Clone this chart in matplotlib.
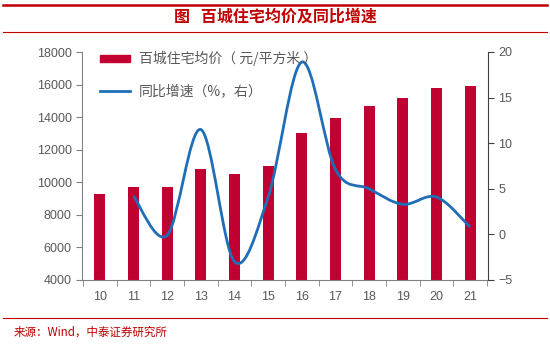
import numpy as np
import matplotlib
matplotlib.use('Agg')
import matplotlib.pyplot as plt
from matplotlib.path import Path
from matplotlib.patches import PathPatch, Rectangle
from matplotlib.lines import Line2D

plt.rcParams['font.family'] = ['Liberation Sans', 'Noto Sans CJK SC', 'DejaVu Sans']

years = ['10', '11', '12', '13', '14', '15', '16', '17', '18', '19', '20', '21']
price = [9300, 9700, 9700, 10800, 10500, 10980, 13000, 13950, 14680, 15170, 15790, 15900]
growth_years = ['11', '12', '13', '14', '15', '16', '17', '18', '19', '20', '21']
growth = [4.2, -0.1, 11.5, -3.0, 4.1, 18.9, 7.1, 5.0, 3.3, 4.1, 0.8]

bar_color = '#C00030'
line_color = '#1F6EB8'
red = '#C00000'
grey = '#595959'

fig = plt.figure(figsize=(5.5, 3.46), dpi=100)

# header / footer lines and texts
fig.add_artist(Line2D([0.005, 0.995], [1 - 4.5/346, 1 - 4.5/346], color=red, lw=1.8))
fig.add_artist(Line2D([0.005, 0.995], [1 - 32/346, 1 - 32/346], color=red, lw=0.8))
fig.add_artist(Line2D([0.005, 0.995], [1 - 318/346, 1 - 318/346], color=red, lw=0.8))
fig.text(0.5, 1 - 17/346, '图   百城住宅均价及同比增速', ha='center', va='center',
         color=red, fontsize=11.5, fontweight='bold', family=['Noto Sans CJK SC'])
fig.text(0.025, 1 - 332/346, '来源：Wind，中泰证券研究所', ha='left', va='center',
         color=red, fontsize=8.3, family=['Noto Sans CJK SC'])

ax = fig.add_axes([82/550, 1 - 280/346, (488 - 82)/550, (280 - 52)/346])
x = np.arange(len(years))
ax.bar(x, price, width=0.33, color=bar_color, zorder=2)
ax.set_xlim(-0.53, len(years) - 0.47)
ax.set_ylim(4000, 18000)
ax.set_yticks(np.arange(4000, 18001, 2000))
ax.set_xticks(x)
ax.set_xticklabels(years)
ax.set_xticks(np.arange(-0.5, len(years), 1), minor=True)
ax.tick_params(axis='x', which='major', length=0, pad=8)
ax.tick_params(axis='x', which='minor', length=4, color='#808080')
ax.tick_params(axis='y', length=4, color='#808080', direction='out')
ax.tick_params(labelsize=9, labelcolor=grey)
for s in ['top', 'right']:
    ax.spines[s].set_visible(False)
for s in ['left', 'bottom']:
    ax.spines[s].set_color('#808080')

ax2 = ax.twinx()
ax2.set_ylim(-5, 20)
ax2.set_yticks(np.arange(-5, 21, 5))
ax2.tick_params(axis='y', length=4, color='#404040', labelsize=9, labelcolor=grey)
for s in ['top', 'left', 'bottom']:
    ax2.spines[s].set_visible(False)
ax2.spines['right'].set_color('#404040')

# smoothed line (Excel-style Bezier through the data points)
gx = np.array([years.index(g) for g in growth_years], dtype=float)
gy = np.array(growth, dtype=float)
n = len(gx)
verts = [(gx[0], gy[0])]
codes = [Path.MOVETO]
t = 1 / 6
for i in range(n - 1):
    p0 = i - 1 if i > 0 else i
    p3 = i + 2 if i + 2 < n else i + 1
    c1 = (gx[i] + (gx[i + 1] - gx[p0]) * t, gy[i] + (gy[i + 1] - gy[p0]) * t)
    c2 = (gx[i + 1] - (gx[p3] - gx[i]) * t, gy[i + 1] - (gy[p3] - gy[i]) * t)
    verts += [c1, c2, (gx[i + 1], gy[i + 1])]
    codes += [Path.CURVE4] * 3
ax2.add_patch(PathPatch(Path(verts, codes), fill=False, edgecolor=line_color, lw=2, zorder=3))

# legend drawn by hand
leg_font = dict(fontsize=10, color=grey, va='center', family=['Noto Sans CJK SC'])
fig.add_artist(Rectangle((100/550, 1 - 62/346), 30/550, 7/346, color=bar_color))
fig.text(139/550, 1 - 58.5/346, '百城住宅均价（ 元/平方米 ）', **leg_font)
fig.add_artist(Line2D([100/550, 130/550], [1 - 91/346, 1 - 91/346], color=line_color, lw=2))
fig.text(139/550, 1 - 91/346, '同比增速（%，右）', **leg_font)

fig.savefig('out.png', dpi=100)
